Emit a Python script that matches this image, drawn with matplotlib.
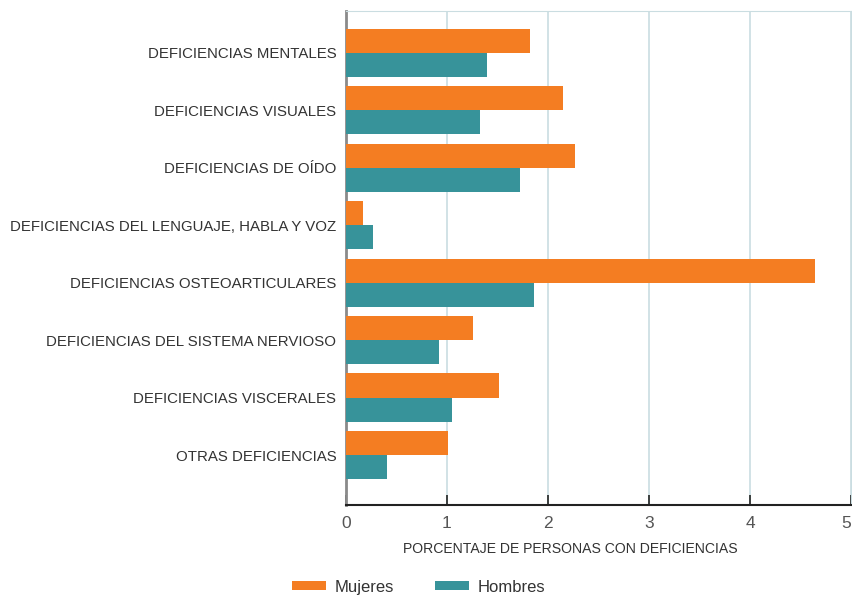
import numpy as np
import matplotlib
matplotlib.use('Agg')
from matplotlib import pyplot as plt
from matplotlib import transforms

categorias = ['DEFICIENCIAS MENTALES', 'DEFICIENCIAS VISUALES', 'DEFICIENCIAS DE OÍDO',
              'DEFICIENCIAS DEL LENGUAJE, HABLA Y VOZ', 'DEFICIENCIAS OSTEOARTICULARES',
              'DEFICIENCIAS DEL SISTEMA NERVIOSO', 'DEFICIENCIAS VISCERALES', 'OTRAS DEFICIENCIAS']
mujeres = [1.82, 2.15, 2.27, 0.17, 4.64, 1.26, 1.51, 1.01]
hombres = [1.40, 1.33, 1.72, 0.27, 1.86, 0.92, 1.05, 0.41]
ticks_x = [0, 1, 2, 3, 4, 5]

naranja = '#F47D22'
verde = '#37939A'
rejilla = '#CADDE1'

plt.rcParams['font.family'] = ['Liberation Sans', 'DejaVu Sans']

fig = plt.figure(figsize=(8.53, 5.95), dpi=100)
ax = fig.add_axes([346 / 853, 0.1513, 505 / 853, 0.8302])

y = np.arange(len(categorias))
h = 0.42
ax.barh(y - h / 2, mujeres, height=h, color=naranja, label='Mujeres', zorder=3)
ax.barh(y + h / 2, hombres, height=h, color=verde, label='Hombres', zorder=3)

ax.set_ylim(len(categorias) - 1 + 0.87, -0.73)
ax.set_xlim(0, 5)
ax.set_yticks(y)
ax.set_yticklabels(categorias, fontsize=10.8, color='#333333')
ax.set_xticks(ticks_x)
ax.set_xticklabels([str(t) for t in ticks_x], fontsize=12.5, color='#555555')
ax.tick_params(axis='y', length=0, pad=7)
ax.tick_params(axis='x', direction='in', length=7, width=1.2, color='#222222', pad=8)
ax.grid(axis='x', color=rejilla, linewidth=1.2, zorder=0)

# el "5" queda pegado al borde: se corre un poco a la izquierda
ultimo = ax.get_xticklabels()[-1]
ultimo.set_transform(ultimo.get_transform() + transforms.ScaledTranslation(-5 / 100, 0, fig.dpi_scale_trans))

ax.spines['left'].set_color('#8a8a8a')
ax.spines['left'].set_linewidth(2)
ax.spines['bottom'].set_color('#222222')
ax.spines['bottom'].set_linewidth(1.5)
ax.spines['top'].set_color(rejilla)
ax.spines['right'].set_color(rejilla)

ax.set_xlabel('PORCENTAJE DE PERSONAS CON DEFICIENCIAS', fontsize=10.1, color='#333333', labelpad=10)
ax.xaxis.set_label_coords(0.445, -0.075)

fig.legend(loc='center', bbox_to_anchor=(0.4906, 0.0134), ncol=2, frameon=False,
           fontsize=12, handlelength=2.04, handleheight=0.42, handletextpad=0.54,
           columnspacing=2.45, labelcolor='#333333', borderpad=0)

fig.savefig('out.png', dpi=100)
